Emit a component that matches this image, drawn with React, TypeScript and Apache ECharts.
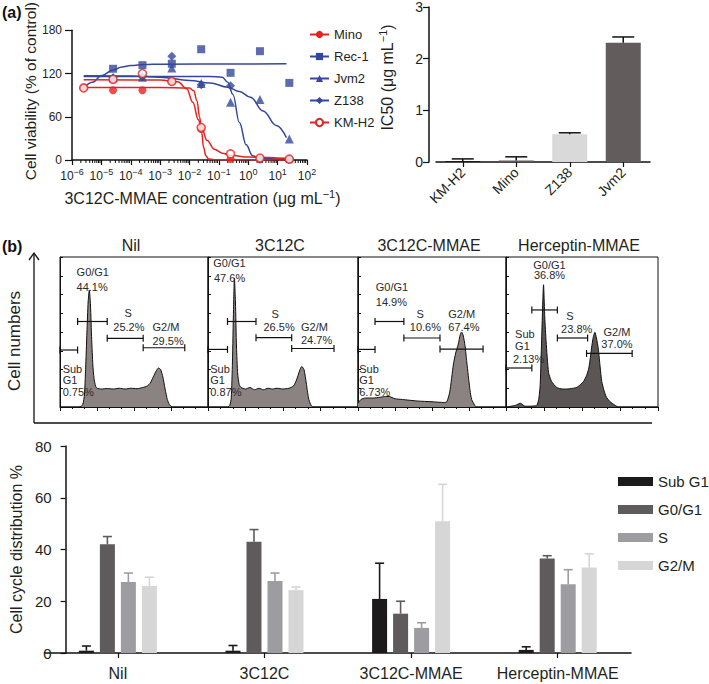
import React, { useEffect, useRef } from 'react';
import * as echarts from 'echarts';

const FONT = '"Liberation Sans", Arial, Helvetica, sans-serif';
const TXT = '#231f20';
const RED = '#e3231f';
const BLUE = '#35479b';

// ---------- (a) dose-response ----------
const concentrations = [2.5e-6, 2.5e-5, 2.5e-4, 2.5e-3, 2.5e-2, 2.5e-1, 2.5, 25];
const cellLines = ['Mino', 'Rec-1', 'Jvm2', 'Z138', 'KM-H2'];
const minoViability = [100, 96.7, 96.7, 109, 43, 1.5, 1, 0.5];
const rec1Viability = [null, 126.6, 131.6, 133.6, 153.7, 121, 151, 107];
const jvm2Viability = [null, 114, 115, 127.8, 106, 80, 84, 29];
const z138Viability = [null, 114, 116, 144, 104.5, 103, 1.5, 1];
const kmh2Viability = [100, 112, 120, 109, 45, 8.5, 2.7, 1.2];

const minoFit = [[2.5e-6, 100.5], [1e-3, 100.5], [1e-2, 100], [1.4e-2, 96], [1.8e-2, 82], [2.2e-2, 60], [2.6e-2, 38], [3e-2, 18], [3.6e-2, 6], [4.5e-2, 1.5], [7e-2, 0.3], [20, 0.2]];
const rec1Fit = [[2.5e-6, 100], [5e-6, 108], [1e-5, 117], [2.5e-5, 125], [5e-5, 129], [1e-4, 131], [3e-4, 132.5], [1e-3, 133], [20, 133.5]];
const jvm2Fit = [[2.5e-6, 117], [1e-4, 116.5], [1e-3, 115], [1e-2, 110.5], [5e-2, 107], [0.2, 101], [0.5, 95], [1.2, 87], [3.2, 68], [9, 48], [20, 31]];
const z138Fit = [[2.5e-6, 116], [0.05, 116], [0.13, 115], [0.2, 108], [0.3, 91], [0.5, 52], [0.85, 21], [1.4, 6], [2.4, 2], [20, 1]];
const kmh2Fit = [[2.5e-6, 111.5], [1e-3, 111], [4e-3, 108.5], [8e-3, 99], [1.3e-2, 80], [2e-2, 56], [2.5e-2, 46], [4e-2, 27], [7e-2, 15], [0.13, 9.5], [0.25, 6.5], [1, 4], [20, 2.5]];

// ---------- (a) IC50 ----------
const ic50Lines = ['KM-H2', 'Mino', 'Z138', 'Jvm2'];
const ic50Values = [0.02, 0.03, 0.535, 2.31];
const ic50Errors = [0.04, 0.07, 0.03, 0.11];

// ---------- (b) flow histograms (x: % of channel range, y: % of panel height) ----------
const flowTitles = ['Nil', '3C12C', '3C12C-MMAE', 'Herceptin-MMAE'];
const nilHistogram = [[0, 0], [12, 0], [14.5, 0.5], [15.5, 2], [16.5, 8], [17.3, 25], [18.2, 50], [19, 70], [19.8, 78], [20.6, 68], [21.4, 45], [22.2, 28], [23, 19], [24, 14], [25, 12.5], [28, 12], [32, 12.3], [36, 12], [40, 12.5], [44, 12], [48, 12.5], [52, 12.2], [56, 13], [59, 14], [61, 16], [63, 20], [65, 24], [66.5, 26], [68, 25], [69.5, 20], [71, 12], [72.5, 5], [74, 1.5], [76, 0], [100, 0]];
const c3c12cHistogram = [[0, 0], [13, 0], [14.5, 1], [15.5, 6], [16.3, 30], [17, 65], [17.6, 86], [18.3, 70], [19, 40], [19.8, 22], [20.8, 15], [22, 13], [25, 12], [28, 13], [31, 11.5], [34, 12.5], [37, 11.5], [40, 12.5], [43, 12], [46, 12.5], [50, 12], [54, 12.5], [57, 14], [59, 18], [61, 24], [62.5, 27], [64, 25], [65.5, 16], [67, 6], [68.5, 1.5], [70, 0], [100, 0]];
const mmaeHistogram = [[0, 2.5], [2, 5], [5, 6], [10, 6], [15, 6.5], [18, 7], [21, 7], [25, 5.5], [30, 5], [40, 4], [50, 3.5], [58, 3], [60, 3.5], [62, 10], [64.4, 28], [66, 36], [67.8, 42], [69, 48], [70, 50], [71, 48], [72.3, 41], [73.5, 30], [74.5, 21], [75.7, 11], [76.8, 5], [79, 1], [80, 0], [100, 0]];
const herceptinHistogram = [[0, 0], [6, 1], [9.4, 2.5], [12.7, 0.5], [20, 1], [21.5, 5], [22.5, 15], [23.6, 50], [24.7, 81.5], [25.5, 60], [26.4, 43.5], [28, 23], [30, 17], [33.4, 13], [37, 12], [40, 12], [44, 12.5], [46.5, 13], [49, 15], [51, 17], [53, 21], [54.5, 26], [55.5, 33], [56.5, 41], [57.5, 47], [58.5, 49.8], [59.5, 46], [60.7, 39], [62, 26], [63, 17], [64.5, 11], [66, 6.7], [68, 4], [70.5, 2], [74, 0], [100, 0]];

// gates: [start, end, height]
const nilGates = [[0, 11.9, 38], [11.9, 31.9, 57], [31.9, 56.2, 45.8], [56.2, 84.3, 39.5]];
const c3c12cGates = [[0, 13, 38.4], [13, 32, 57], [32, 55.8, 46.2], [55.8, 84, 39]];
const mmaeGates = [[0, 11.5, 38.4], [11.5, 31, 57], [31, 55.4, 46], [55.4, 84.5, 38.6]];
const herceptinGates = [[0, 17, 26], [17, 33.8, 64.7], [33.8, 53.7, 46], [53, 83, 35.7]];

// gate labels: [x, y, text, align]
const nilLabels = [[11.2, 90, 'G0/G1', 'left'], [11.2, 80, '44.1%', 'left'], [46, 62.5, 'S', 'center'], [36, 53.6, '25.2%', 'left'], [62.5, 53.6, 'G2/M', 'left'], [62.5, 44, '29.5%', 'left'], [1.8, 25.2, 'Sub', 'left'], [1.8, 17.9, 'G1', 'left'], [1.8, 10, '0.75%', 'left']];
const c3c12cLabels = [[3.5, 96, 'G0/G1', 'left'], [4, 86, '47.6%', 'left'], [44.7, 62, 'S', 'center'], [37, 53.6, '26.5%', 'left'], [62, 53.6, 'G2/M', 'left'], [62, 44.6, '24.7%', 'left'], [1.5, 25.2, 'Sub', 'left'], [1.5, 17.9, 'G1', 'left'], [1.5, 10, '0.87%', 'left']];
const mmaeLabels = [[12, 79.7, 'G0/G1', 'left'], [12, 70, '14.9%', 'left'], [42, 62, 'S', 'center'], [35, 53.6, '10.6%', 'left'], [61, 62, 'G2/M', 'left'], [61, 53.6, '67.4%', 'left'], [0.8, 25.2, 'Sub', 'left'], [0.8, 17.9, 'G1', 'left'], [0.8, 10, '6.73%', 'left']];
const herceptinLabels = [[28.6, 95, 'G0/G1', 'center'], [28.6, 88, '36.8%', 'center'], [42, 61, 'S', 'center'], [46.5, 52, '23.8%', 'center'], [73, 49.8, 'G2/M', 'center'], [73, 42, '37.0%', 'center'], [6, 49, 'Sub', 'left'], [6, 41, 'G1', 'left'], [4.6, 32, '2.13%', 'left']];

// ---------- (b) cell-cycle distribution ----------
const treatments = ['Nil', '3C12C', '3C12C-MMAE', 'Herceptin-MMAE'];
const phaseNames = ['Sub G1', 'G0/G1', 'S', 'G2/M'];
const subG1Values = [0.9, 0.9, 20.9, 1.2];
const subG1Errors = [1.8, 2.0, 13.8, 1.2];
const g0g1Values = [42, 43, 15.2, 36.5];
const g0g1Errors = [3, 4.7, 4.8, 1.1];
const sValues = [27.4, 27.8, 9.7, 26.6];
const sErrors = [3.5, 3.1, 2, 5.6];
const g2mValues = [25.9, 24.3, 50.9, 33];
const g2mErrors = [3.4, 1.2, 14.3, 5.3];

function buildOption() {
  const fitSets = [minoFit, rec1Fit, jvm2Fit, z138Fit, kmh2Fit];
  const pointSets = [minoViability, rec1Viability, jvm2Viability, z138Viability, kmh2Viability];
  const lineColors = [RED, BLUE, BLUE, BLUE, RED];
  const symbols = ['circle', 'rect', 'triangle', 'diamond', 'emptyCircle'];
  const symbolSizes = [8, 8, 9, 9, 8];

  const curveSeries = cellLines.map((name, i) => ({
    name,
    type: 'line',
    xAxisIndex: 0,
    yAxisIndex: 0,
    data: fitSets[i],
    smooth: 0.4,
    smoothMonotone: 'x',
    showSymbol: false,
    symbol: symbols[i],
    symbolSize: symbolSizes[i],
    lineStyle: { color: lineColors[i], width: 1.5 },
    itemStyle: { color: lineColors[i] },
    z: 2,
  }));

  const pointOrder = [1, 2, 3, 0, 4];
  const pointSeries = pointOrder.map((i) => ({
    name: cellLines[i],
    type: 'scatter',
    xAxisIndex: 0,
    yAxisIndex: 0,
    symbol: symbols[i] === 'emptyCircle' ? 'circle' : symbols[i],
    symbolSize: symbolSizes[i],
    data: concentrations
      .map((c, j) => (pointSets[i][j] == null ? null : [c, pointSets[i][j]]))
      .filter((d) => d !== null),
    itemStyle:
      symbols[i] === 'emptyCircle'
        ? { color: '#fff', borderColor: RED, borderWidth: 1.6 }
        : { color: lineColors[i] },
    z: 3 + i,
  }));

  const logMinorTicks: number[][] = [];
  for (let e = -6; e < 2; e++) for (let k = 2; k <= 9; k++) logMinorTicks.push([k * Math.pow(10, e), 0]);
  const minorTickSeries = {
    type: 'custom',
    xAxisIndex: 0,
    yAxisIndex: 0,
    data: logMinorTicks,
    silent: true,
    z: 1,
    renderItem: (_p: any, api: any) => {
      const p = api.coord([api.value(0), 0]);
      return { type: 'line', shape: { x1: p[0], y1: p[1], x2: p[0], y2: p[1] + 3 }, style: { stroke: '#111', lineWidth: 1 } };
    },
  };

  const ic50Colors = ['#1c1a1b', '#5f5a5b', '#d9d9d9', '#625c5c'];
  const ic50Bar = {
    type: 'bar',
    xAxisIndex: 1,
    yAxisIndex: 1,
    barWidth: 35,
    data: ic50Values.map((v, i) => ({ value: v, itemStyle: { color: ic50Colors[i] } })),
    z: 2,
  };
  const ic50Err = {
    type: 'custom',
    xAxisIndex: 1,
    yAxisIndex: 1,
    data: ic50Values.map((v, i) => [i, v, ic50Errors[i]]),
    z: 3,
    renderItem: (_p: any, api: any) => {
      const b = api.coord([api.value(0), api.value(1)]);
      const t = api.coord([api.value(0), api.value(1) + api.value(2)]);
      const st = { stroke: '#111', lineWidth: 1.5 };
      return {
        type: 'group',
        children: [
          { type: 'line', shape: { x1: b[0], y1: b[1], x2: b[0], y2: t[1] }, style: st },
          { type: 'line', shape: { x1: b[0] - 11, y1: t[1], x2: b[0] + 11, y2: t[1] }, style: st },
        ],
      };
    },
  };

  const flowHists = [nilHistogram, c3c12cHistogram, mmaeHistogram, herceptinHistogram];
  const flowGates = [nilGates, c3c12cGates, mmaeGates, herceptinGates];
  const flowLabels = [nilLabels, c3c12cLabels, mmaeLabels, herceptinLabels];
  const flowFills = ['#8a8381', '#8a8381', '#8a8381', '#5b5655'];
  const flowLefts = [60, 208, 358, 506];
  const flowWidths = [148, 150, 148, 152];

  const flowSeries: any[] = [];
  flowHists.forEach((h, i) => {
    flowSeries.push({
      type: 'line',
      xAxisIndex: 2 + i,
      yAxisIndex: 2 + i,
      data: h,
      smooth: 0.2,
      showSymbol: false,
      symbol: 'none',
      lineStyle: { color: '#111', width: 1 },
      areaStyle: { color: flowFills[i], opacity: 1 },
      silent: true,
      z: 2,
    });
    flowSeries.push({
      type: 'custom',
      xAxisIndex: 2 + i,
      yAxisIndex: 2 + i,
      data: flowGates[i],
      silent: true,
      z: 4,
      renderItem: (_p: any, api: any) => {
        const a = api.coord([api.value(0), api.value(2)]);
        const b = api.coord([api.value(1), api.value(2)]);
        const st = { stroke: '#111', lineWidth: 1.2 };
        return {
          type: 'group',
          children: [
            { type: 'line', shape: { x1: a[0], y1: a[1], x2: b[0], y2: b[1] }, style: st },
            { type: 'line', shape: { x1: a[0], y1: a[1] - 3.5, x2: a[0], y2: a[1] + 3.5 }, style: st },
            { type: 'line', shape: { x1: b[0], y1: b[1] - 3.5, x2: b[0], y2: b[1] + 3.5 }, style: st },
          ],
        };
      },
    });
    const labs = flowLabels[i];
    flowSeries.push({
      type: 'custom',
      xAxisIndex: 2 + i,
      yAxisIndex: 2 + i,
      data: labs.map((l) => [l[0], l[1]]),
      silent: true,
      z: 5,
      renderItem: (params: any, api: any) => {
        const p = api.coord([api.value(0), api.value(1)]);
        const l = labs[params.dataIndex];
        return {
          type: 'text',
          x: p[0],
          y: p[1],
          style: { text: l[2], fill: '#2a2a2a', fontSize: 11, fontFamily: FONT, align: l[3], verticalAlign: 'middle' },
        };
      },
    });
  });

  const phaseValues = [subG1Values, g0g1Values, sValues, g2mValues];
  const phaseErrors = [subG1Errors, g0g1Errors, sErrors, g2mErrors];
  const phaseColors = ['#1c1a1b', '#5f5a5b', '#9d9ca1', '#d6d6d6'];
  const BAR_W = 15;
  const BAR_PITCH = 21;
  const phaseBars = phaseNames.map((name, i) => ({
    name,
    type: 'bar',
    xAxisIndex: 6,
    yAxisIndex: 6,
    barWidth: BAR_W,
    barGap: '40%',
    data: phaseValues[i],
    itemStyle: { color: phaseColors[i] },
    z: 2,
  }));
  const phaseErrs = phaseNames.map((_n, i) => ({
    type: 'custom',
    xAxisIndex: 6,
    yAxisIndex: 6,
    data: phaseValues[i].map((v, j) => [j, v, phaseErrors[i][j]]),
    silent: true,
    z: 3,
    renderItem: (_p: any, api: any) => {
      const b = api.coord([api.value(0), api.value(1)]);
      const t = api.coord([api.value(0), api.value(1) + api.value(2)]);
      const x = b[0] + (i - 1.5) * BAR_PITCH;
      const st = { stroke: phaseColors[i], lineWidth: 1.6 };
      return {
        type: 'group',
        children: [
          { type: 'line', shape: { x1: x, y1: b[1], x2: x, y2: t[1] }, style: st },
          { type: 'line', shape: { x1: x - 4.5, y1: t[1], x2: x + 4.5, y2: t[1] }, style: st },
        ],
      };
    },
  }));

  const axisLineStyle = { color: '#111', width: 1.5 };
  const supRich = { sup: { fontSize: 9, fontFamily: FONT, color: TXT, padding: [0, 0, 8, 0] } };

  const flowX = flowLefts.map((_l, i) => ({
    gridIndex: 2 + i,
    type: 'value',
    min: 0,
    max: 100,
    interval: 25,
    axisLine: { show: true, lineStyle: { color: '#111', width: 1 } },
    axisTick: { show: true, length: 4, lineStyle: { color: '#111' } },
    minorTick: { show: true, splitNumber: 3, length: 2, lineStyle: { color: '#111' } },
    axisLabel: { show: false },
    splitLine: { show: false },
  }));
  const flowY = flowLefts.map((_l, i) => ({
    gridIndex: 2 + i,
    type: 'value',
    min: 0,
    max: 100,
    interval: 12.5,
    axisLine: { show: true, lineStyle: { color: '#111', width: 1 } },
    axisTick: { show: true, inside: true, length: 3, lineStyle: { color: '#111' } },
    axisLabel: { show: false },
    splitLine: { show: false },
  }));

  return {
    animation: false,
    backgroundColor: '#fff',
    textStyle: { fontFamily: FONT, color: TXT },
    legend: [
      {
        data: cellLines,
        orient: 'vertical',
        left: 304,
        top: 23,
        itemWidth: 19,
        itemHeight: 9,
        itemGap: 9,
        selectedMode: false,
        textStyle: { fontSize: 13, color: TXT, fontFamily: FONT },
      },
      {
        data: phaseNames,
        orient: 'vertical',
        left: 613,
        top: 469,
        itemWidth: 35,
        itemHeight: 9,
        itemGap: 13,
        icon: 'rect',
        selectedMode: false,
        textStyle: { fontSize: 15, color: TXT, fontFamily: FONT },
      },
    ],
    grid: [
      { left: 72, top: 5, width: 235, height: 155 },
      { left: 436, top: 7, width: 214, height: 155 },
      ...flowLefts.map((l, i) => ({ left: l, top: 257, width: flowWidths[i], height: 150, show: true, borderColor: '#111', borderWidth: 1 })),
      { left: 39, top: 446, width: 592, height: 207 },
    ],
    xAxis: [
      {
        gridIndex: 0,
        type: 'log',
        logBase: 10,
        min: 1e-6,
        max: 100,
        splitNumber: 8,
        axisLine: { show: true, lineStyle: axisLineStyle },
        axisTick: { show: true, length: 5, lineStyle: { color: '#111', width: 1.2 } },
        axisLabel: {
          color: TXT,
          fontSize: 12,
          margin: 7,
          formatter: (v: number) => {
            const e = Math.round(Math.log10(v));
            return '10{sup|' + (e < 0 ? '−' + -e : String(e)) + '}';
          },
          rich: supRich,
        },
        splitLine: { show: false },
        name: '3C12C-MMAE concentration (μg mL{sup|−1})',
        nameLocation: 'middle',
        nameGap: 28,
        nameTextStyle: { fontSize: 16, color: TXT, fontFamily: FONT, padding: [0, 0, 0, 26], rich: { sup: { fontSize: 11, fontFamily: FONT, color: TXT, padding: [0, 0, 9, 0] } } },
      },
      {
        gridIndex: 1,
        type: 'category',
        data: ic50Lines,
        axisLine: { show: true, lineStyle: axisLineStyle },
        axisTick: { show: true, alignWithLabel: true, length: 5, lineStyle: { color: '#111', width: 1.2 } },
        axisLabel: { rotate: 45, fontSize: 14, color: TXT, margin: 8, interval: 0 },
        splitLine: { show: false },
      },
      ...flowX,
      {
        gridIndex: 6,
        type: 'category',
        data: treatments,
        axisLine: { show: true, lineStyle: axisLineStyle },
        axisTick: { show: true, alignWithLabel: true, length: 5, lineStyle: { color: '#111', width: 1.2 } },
        axisLabel: { fontSize: 16, color: TXT, margin: 12, interval: 0 },
        splitLine: { show: false },
      },
    ],
    yAxis: [
      {
        gridIndex: 0,
        type: 'value',
        min: 0,
        max: 180,
        interval: 60,
        axisLine: { show: true, lineStyle: axisLineStyle },
        axisTick: { show: true, length: 7, lineStyle: { color: '#111', width: 1.2 } },
        axisLabel: { color: TXT, fontSize: 12, margin: 10 },
        splitLine: { show: false },
        name: 'Cell viability (% of control)',
        nameLocation: 'middle',
        nameGap: 34,
        nameTextStyle: { fontSize: 15.5, color: TXT, fontFamily: FONT, padding: [0, 0, 0, 8] },
      },
      {
        gridIndex: 1,
        type: 'value',
        min: 0,
        max: 3,
        interval: 1,
        offset: 7,
        axisLine: { show: true, lineStyle: axisLineStyle },
        axisTick: { show: true, length: 6, lineStyle: { color: '#111', width: 1.2 } },
        axisLabel: { color: TXT, fontSize: 14, margin: 6 },
        splitLine: { show: false },
        name: 'IC50 (μg mL{sup|−1})',
        nameLocation: 'middle',
        nameGap: 32,
        nameTextStyle: { fontSize: 16, color: TXT, fontFamily: FONT, padding: [0, 0, 0, 14], rich: { sup: { fontSize: 11, fontFamily: FONT, color: TXT, padding: [0, 0, 9, 0] } } },
      },
      ...flowY,
      {
        gridIndex: 6,
        type: 'value',
        min: 0,
        max: 80,
        interval: 20,
        offset: -21,
        axisLine: { show: true, lineStyle: axisLineStyle },
        axisTick: { show: true, length: 5, lineStyle: { color: '#111', width: 1.2 } },
        axisLabel: { color: TXT, fontSize: 15, margin: 14 },
        splitLine: { show: false },
        name: 'Cell cycle distribution %',
        nameLocation: 'middle',
        nameGap: 38,
        nameTextStyle: { fontSize: 16, color: TXT, fontFamily: FONT },
      },
    ],
    series: [
      minorTickSeries,
      ...curveSeries,
      ...pointSeries,
      ic50Bar,
      ic50Err,
      ...flowSeries,
      ...phaseBars,
      ...phaseErrs,
    ],
    graphic: [
      { type: 'text', x: 2, y: 12, style: { text: '(a)', fontSize: 16, fontWeight: 'bold', fontFamily: FONT, fill: '#111', align: 'left', verticalAlign: 'middle' } },
      { type: 'text', x: 2, y: 246, style: { text: '(b)', fontSize: 16, fontWeight: 'bold', fontFamily: FONT, fill: '#111', align: 'left', verticalAlign: 'middle' } },
      ...flowTitles.map((t, i) => ({
        type: 'text',
        x: flowLefts[i] + flowWidths[i] / 2 - 3,
        y: 245,
        style: { text: t, fontSize: 16, fontFamily: FONT, fill: TXT, align: 'center', verticalAlign: 'middle' },
      })),
      { type: 'line', shape: { x1: 34, y1: 254, x2: 34, y2: 423 }, style: { stroke: '#111', lineWidth: 1.3 } },
      { type: 'line', shape: { x1: 34, y1: 423, x2: 652, y2: 423 }, style: { stroke: '#111', lineWidth: 1.3 } },
      { type: 'polyline', shape: { points: [[29, 260], [34, 253], [39, 260]] }, style: { stroke: '#111', lineWidth: 1.3, fill: 'none' } },
      { type: 'text', x: 14, y: 341, rotation: Math.PI / 2, style: { text: 'Cell numbers', fontSize: 17, fontFamily: FONT, fill: TXT, align: 'center', verticalAlign: 'middle' } },
    ],
  };
}

export default function App() {
  const ref = useRef<HTMLDivElement>(null);
  useEffect(() => {
    if (!ref.current) return;
    const chart = echarts.init(ref.current, null, { renderer: 'svg' });
    chart.setOption(buildOption() as any);
    return () => chart.dispose();
  }, []);
  return <div ref={ref} style={{ position: 'fixed', left: 0, top: 0, width: 709, height: 684, background: '#fff' }} />;
}
